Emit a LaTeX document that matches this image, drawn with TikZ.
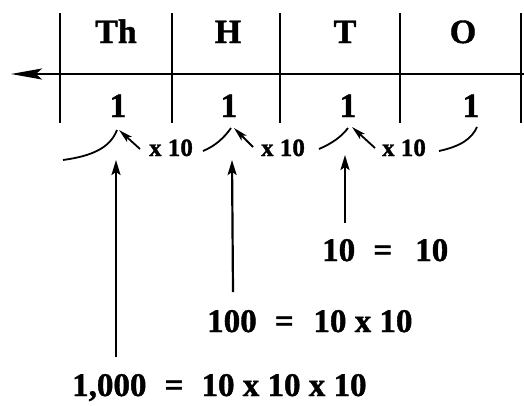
\documentclass[tikz,border=0pt]{standalone}
\usepackage{fontspec}
\setmainfont{Liberation Serif}
\newfontfamily\heavy{Liberation Serif Bold}[FakeBold=1.2]
\usetikzlibrary{arrows.meta}
\begin{document}
\begin{tikzpicture}[x=1pt,y=-1pt,
  big/.style={font=\fontsize{34}{40}\heavy, inner sep=0pt, anchor=base},
  eq/.style={font=\fontsize{33}{40}\heavy, inner sep=0pt, anchor=base west},
  small/.style={font=\fontsize{25}{28}\heavy, inner sep=0pt, anchor=base},
  rule/.style={line width=2.2pt},
  curve/.style={line width=1.8pt},
  mult/.style={line width=1.8pt, -{Stealth[length=14pt,width=7pt,inset=3pt]}},
  up/.style={line width=2.2pt, -{Stealth[length=15pt,width=9pt,inset=3pt]}},
  axis/.style={line width=2.2pt, -{Stealth[length=31pt,width=11pt,inset=6pt]}}
]
\useasboundingbox (0,0) rectangle (524,405);

% column rules
\foreach \x [count=\i from 0] in {60,172,280,400,521}{
  \coordinate (v\i t) at (\x,13);
  \coordinate (v\i b) at (\x,123);
  \draw[rule] (v\i t) -- (v\i b);
}
% axis
\coordinate (hr) at (524,74);
\coordinate (hl) at (11,74);
\draw[axis] (hr) -- (hl);

% headers
\node[big] (hTh) at (116,43) {Th};
\node[big] (hH)  at (228,43) {H};
\node[big] (hT)  at (345,43) {T};
\node[big] (hO)  at (463,43) {O};

% digits
\node[big] (d1) at (118,117) {1};
\node[big] (d2) at (229,117) {1};
\node[big] (d3) at (348,117) {1};
\node[big] (d4) at (471,117) {1};

% x 10 labels
\node[small] (m1) at (171,156) {x 10};
\node[small] (m2) at (283,156) {x 10};
\node[small] (m3) at (404,156) {x 10};

% peaks and curve ends
\coordinate (p1) at (117,130);
\coordinate (p2) at (231,128);
\coordinate (p3) at (348,128);
\coordinate (p4) at (477,127);
\coordinate (c1) at (63,160);
\coordinate (c2) at (203,151);
\coordinate (c3) at (319,149);
\coordinate (c4) at (439,151);
\coordinate (a1) at (140,149);
\coordinate (a2) at (253,147);
\coordinate (a3) at (375,148);
\coordinate (t1) at (119,130);
\coordinate (t2) at (234,128);
\coordinate (t3) at (352,127);

\draw[curve] (c1) .. controls (92,156) and (110,148) .. (p1);
\draw[curve] (c2) .. controls (215,146) and (224,138) .. (p2);
\draw[curve] (c3) .. controls (333,143) and (342,136) .. (p3);
\draw[curve] (c4) .. controls (462,146) and (472,138) .. (p4);
\draw[mult] (a1) -- (t1);
\draw[mult] (a2) -- (t2);
\draw[mult] (a3) -- (t3);

% equations
\node[eq] (e1) at (322,261) {10\hspace{0.55em}=\hspace{0.7em}10};
\node[eq] (e2) at (207,332) {100\hspace{0.55em}=\hspace{0.6em}10 x 10};
\node[eq] (e3) at (72,396) {1,000\hspace{0.55em}=\hspace{0.55em}10 x 10 x 10};

% vertical arrows
\coordinate (b1) at (116,357);
\coordinate (b2) at (233,292);
\coordinate (b3) at (345,223);
\coordinate (u1) at (116,160);
\coordinate (u2) at (232,160);
\coordinate (u3) at (345,155);
\draw[up] (b1) -- (u1);
\draw[up] (b2) -- (u2);
\draw[up] (b3) -- (u3);
\end{tikzpicture}
\end{document}
